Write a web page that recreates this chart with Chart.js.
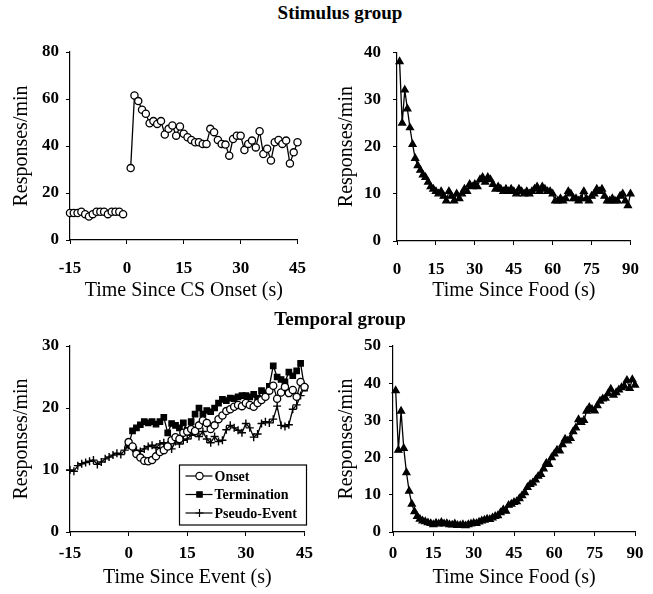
<!DOCTYPE html>
<html>
<head>
<meta charset="utf-8">
<script src="https://cdn.jsdelivr.net/npm/chart.js@4.4.1/dist/chart.umd.min.js"></script>
<style>
body { margin: 0; background: #fff; width: 653px; height: 594px; position: relative; overflow: hidden; font-family: 'Liberation Serif', serif; }
canvas { position: absolute; }
.titulo { position: absolute; left: 0; width: 680px; text-align: center; font-weight: bold; font-size: 19px; z-index: 2; }
</style>
</head>
<body>
<canvas id="g1" width="320" height="282" style="left:0;top:30px"></canvas>
<canvas id="g2" width="333" height="282" style="left:320px;top:30px"></canvas>
<canvas id="g3" width="320" height="276" style="left:0;top:318px"></canvas>
<canvas id="g4" width="333" height="276" style="left:320px;top:318px"></canvas>
<div class="titulo" style="top:2px">Stimulus group</div>
<div class="titulo" style="top:308px">Temporal group</div>
<script>
// Stimulus group - tempo desde o inicio do CS
const tempoPre = [-15, -14, -13, -12, -11, -10, -9, -8, -7, -6, -5, -4, -3, -2, -1];
const respPre = [11.5, 11.5, 11.5, 12, 11, 10, 11, 12, 12, 12, 11, 12, 12, 12, 11];
const tempoCS = [1, 2, 3, 4, 5, 6, 7, 8, 9, 10, 11, 12, 13, 14, 15, 16, 17, 18, 19, 20, 21, 22, 23, 24, 25, 26, 27, 28, 29, 30, 31, 32, 33, 34, 35, 36, 37, 38, 39, 40, 41, 42, 43, 44, 45];
const respCS = [30.6, 61.5, 59.1, 55.4, 53.7, 49.7, 50.6, 49.4, 50.6, 44.9, 47.3, 48.7, 44.4, 48.3, 45.2, 43.7, 42.6, 41.6, 41.6, 40.9,
  40.9, 47.3, 45.9, 42.6, 40.9, 40.6, 35.9, 43, 44.4, 44.4, 38.3, 40.9, 42.3, 39.4, 46.3, 36.6, 38.8, 33.8, 41.6, 42.6,
  40.9, 42.3, 32.6, 37.3, 41.6];

// tempo desde a comida (1..90 s)
const tempoComida = [];
for (let i = 1; i <= 90; i++) tempoComida.push(i);
const respComidaEstim = [38, 25, 32, 28, 24, 20.5, 17.5, 16, 15, 14, 13.5, 12.5, 11.5, 11, 10.5, 10, 10.5, 9.5, 8.5, 10.5,
  9.5, 8.5, 10, 9, 10, 11, 10.5, 12, 11.5, 12, 11.5, 13, 13.5, 12.5, 13.5, 13, 12, 11, 11.5, 11,
  10.5, 11, 10.5, 11, 10.5, 10, 11, 10.5, 10, 10.5, 10, 10.5, 11, 11.5, 10.5, 11.5, 11, 10.5, 10.5, 10,
  8.5, 8.5, 9, 8.5, 9, 10.5, 10, 9, 9, 8.5, 9, 10.5, 9, 8.5, 9.5, 10, 11, 10.5, 11, 9.5,
  8.5, 8.5, 9, 8.5, 8.5, 9.5, 10, 8.5, 7.5, 10];

// Temporal group - tempo desde o evento
const tempoEvento = [0, 1, 2, 3, 4, 5, 6, 7, 8, 9, 10, 11, 12, 13, 14, 15, 16, 17, 18, 19, 20, 21, 22, 23, 24, 25, 26, 27, 28, 29, 30, 31, 32, 33, 34, 35, 36, 37, 38, 39, 40, 41, 42, 43, 44, 45];
const respOnset = [14.5, 13.8, 12.6, 12, 11.5, 11.4, 11.6, 12.2, 12.9, 13.2, 13.8, 14.8, 15.3, 15, 16, 16.2, 16.6, 16.3, 17.2, 18,
  17.6, 16.6, 17.2, 18.2, 18.8, 19.5, 19.8, 20.2, 20.5, 20.3, 20.8, 20.5, 20.2, 20.8, 21.3, 21.8, 22.8, 23.6, 21.5, 22.5,
  23.4, 22.4, 22.9, 21.8, 24.2, 23.4];
const respTermination = [14, 16.3, 16.8, 17.3, 17.8, 17.6, 17.8, 17.4, 17.8, 18.5, 16, 17.5, 17.2, 16.8, 17.6, 16.4, 17.8, 19, 20, 19,
  19.6, 19.4, 20, 20.8, 21.4, 21.2, 21.6, 21.5, 21.8, 22, 22, 21.8, 22.2, 21.6, 22.8, 22.4, 23.5, 26.8, 25, 24.6,
  24.2, 25.8, 25.2, 26, 27.2, 23.2];
const tempoPseudo = [-15, -14, -13, -12, -11, -10, -9, -8, -7, -6, -5, -4, -3, -2, -1].concat(tempoEvento);
const respPseudo = [10, 9.8, 10.7, 11, 11.2, 11.4, 11.6, 10.9, 11.3, 11.8, 12.1, 12.4, 12.7, 12.5, 13.2,
  14, 13.5, 13.2, 13, 13.4, 13.8, 14, 13.6, 14.2, 14.4, 14, 13.4, 14.6, 14.2, 14.8, 15, 15.6, 16, 15.4, 16.2,
  15, 14.4, 15.4, 14.6, 14.8, 16.5, 17.2, 16.8, 16.4, 16, 17.5, 16.8, 15.3, 15.8, 17.5, 17.8, 17.6, 18.2, 20.3, 17.2,
  17, 17.3, 19.8, 20.5, 22, 23.5];

const respComidaTemp = [38, 22, 32.5, 22.5, 16, 11, 7.5, 5.5, 4.2, 3.5, 3, 2.8, 2.5, 2.3, 2, 2.4, 2.2, 2.6, 2.2, 2.3,
  2, 1.9, 2.2, 1.8, 1.8, 2, 1.7, 2, 2.2, 2.4, 2.3, 2.7, 3, 3.2, 3.5, 3.4, 3.8, 4.2, 4.4, 5.2,
  6, 5.6, 7.2, 7.5, 8, 8.2, 9, 9.8, 10.6, 12, 12.8, 13.2, 14, 15, 15.5, 17, 18.5, 18.2, 20, 21,
  22, 21.8, 23.5, 25, 24.5, 25.2, 27, 28, 30.2, 29.5, 30, 32.5, 33.5, 33, 32.6, 34, 35.2, 35.8, 36, 37.2,
  38.4, 36.8, 37.5, 38.2, 38.8, 39.2, 40.8, 38.6, 41, 39.5];

const legendaNomes = ['Onset', 'Termination', 'Pseudo-Event'];

const fonte = "'Liberation Serif', serif";

function pontos(xs, ys) {
  return xs.map((x, i) => ({ x: x, y: ys[i] }));
}

function serie(xs, ys, estilo, label) {
  return Object.assign({
    label: label || '',
    data: pontos(xs, ys),
    borderColor: '#000',
    borderWidth: 1.3,
    pointBorderColor: '#000',
    pointBorderWidth: 1.3,
    tension: 0,
    clip: false
  }, estilo);
}

const circulo = { pointStyle: 'circle', pointRadius: 3.6, pointBackgroundColor: '#fff' };
const triangulo = { pointStyle: 'triangle', pointRadius: 4, pointBackgroundColor: '#000' };
const quadrado = { pointStyle: 'rect', pointRadius: 3.8, pointBackgroundColor: '#000' };
const cruz = { pointStyle: 'cross', pointRadius: 4, pointBorderWidth: 1.4, pointBackgroundColor: '#000' };

function eixos(c) {
  return {
    x: {
      type: 'linear', min: c.xMin, max: c.xMax,
      afterFit: s => { s.height = c.xAltura; },
      border: { display: true, color: '#000', width: 1.2 },
      grid: { drawOnChartArea: false, color: '#000', tickLength: 4 },
      ticks: { stepSize: c.xPasso, color: '#000', padding: c.xPad, font: { family: fonte, size: 17, weight: 'bold' } },
      title: { display: true, text: c.xTitulo, color: '#000', padding: { top: 0, bottom: c.xTitPad }, font: { family: fonte, size: 20 } }
    },
    y: {
      type: 'linear', min: 0, max: c.yMax,
      afterFit: s => { s.width = c.yLargura; },
      border: { display: true, color: '#000', width: 1.2 },
      grid: { drawOnChartArea: false, color: '#000', tickLength: 4 },
      ticks: { stepSize: c.yPasso, color: '#000', padding: c.yPad, font: { family: fonte, size: 17, weight: 'bold' } },
      title: { display: true, text: 'Responses/min', color: '#000', padding: { top: c.yTitPad, bottom: 0 }, font: { family: fonte, size: 20 } }
    }
  };
}

const legendaCaixa = {
  id: 'legendaCaixa',
  afterDraw(chart) {
    const ctx = chart.ctx;
    const a = chart.chartArea;
    const w = 127, h = 60;
    const x0 = a.right - w + 2, y0 = a.bottom - h - 7;
    ctx.save();
    ctx.fillStyle = '#fff';
    ctx.fillRect(x0, y0, w, h);
    ctx.strokeStyle = '#000';
    ctx.lineWidth = 1.2;
    ctx.strokeRect(x0, y0, w, h);
    ctx.font = 'bold 14px ' + fonte;
    ctx.textBaseline = 'middle';
    chart.data.datasets.forEach((ds, i) => {
      const yy = y0 + 11 + i * 18.5;
      ctx.strokeStyle = '#000';
      ctx.lineWidth = 1.2;
      ctx.beginPath();
      ctx.moveTo(x0 + 6, yy);
      ctx.lineTo(x0 + 33, yy);
      ctx.stroke();
      ctx.fillStyle = ds.pointBackgroundColor;
      Chart.helpers.drawPoint(ctx, { pointStyle: ds.pointStyle, radius: ds.pointRadius, borderWidth: ds.pointBorderWidth, rotation: 0 }, x0 + 20, yy);
      ctx.fillStyle = '#000';
      ctx.fillText(ds.label, x0 + 35, yy + 1);
    });
    ctx.restore();
  }
};

function grafico(id, datasets, c, plugins) {
  return new Chart(document.getElementById(id), {
    type: 'line',
    data: { datasets: datasets },
    options: {
      responsive: false,
      animation: false,
      devicePixelRatio: 1,
      layout: { padding: { top: c.topo, right: c.direita, left: 0, bottom: 0 } },
      plugins: { legend: { display: false }, tooltip: { enabled: false } },
      scales: eixos(c)
    },
    plugins: plugins || []
  });
}

grafico('g1', [serie(tempoPre, respPre, circulo), serie(tempoCS, respCS, circulo)], {
  xMin: -15, xMax: 45, xPasso: 15, yMax: 80, yPasso: 20, xTitulo: 'Time Since CS Onset (s)',
  topo: 22, direita: 14, yLargura: 70, xAltura: 72, xPad: 14, xTitPad: 9, yPad: 7, yTitPad: 10
});

grafico('g2', [serie(tempoComida, respComidaEstim, triangulo)], {
  xMin: 0, xMax: 90, xPasso: 15, yMax: 40, yPasso: 10, xTitulo: 'Time Since Food (s)',
  topo: 22, direita: 18, yLargura: 77, xAltura: 71, xPad: 14, xTitPad: 9, yPad: 12, yTitPad: 15
});

grafico('g3', [
  serie(tempoEvento, respOnset, circulo, legendaNomes[0]),
  serie(tempoEvento, respTermination, quadrado, legendaNomes[1]),
  serie(tempoPseudo, respPseudo, cruz, legendaNomes[2])
], {
  xMin: -15, xMax: 45, xPasso: 15, yMax: 30, yPasso: 10, xTitulo: 'Time Since Event (s)',
  topo: 28, direita: 13, yLargura: 70, xAltura: 62, xPad: 7, xTitPad: 4, yPad: 7, yTitPad: 10
}, [legendaCaixa]);

grafico('g4', [serie(tempoComida, respComidaTemp, triangulo)], {
  xMin: 0, xMax: 90, xPasso: 15, yMax: 50, yPasso: 10, xTitulo: 'Time Since Food (s)',
  topo: 28, direita: 18, yLargura: 73, xAltura: 62, xPad: 7, xTitPad: 4, yPad: 8, yTitPad: 15
});
</script>
</body>
</html>
